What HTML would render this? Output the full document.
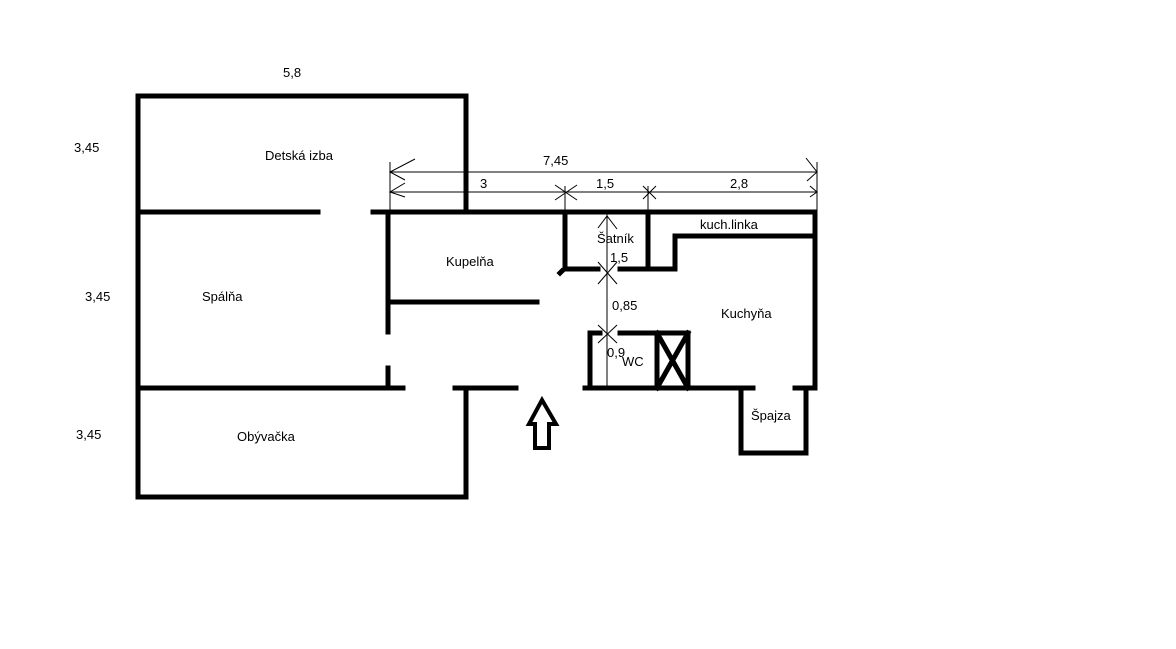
<!DOCTYPE html><html><head><style>body{margin:0;background:#fff}svg{display:block}text{font-family:"Liberation Sans",sans-serif;font-size:13px;fill:#000}</style></head><body>
<svg width="1176" height="649" viewBox="0 0 1176 649">
<g stroke="#000" stroke-width="5" fill="none" stroke-linecap="square">
<polyline points="466,212 466,96 138,96 138,497 466,497 466,388"/>
<line x1="138" y1="212" x2="318" y2="212"/>
<line x1="373" y1="212" x2="815" y2="212"/>
<line x1="138" y1="388" x2="403" y2="388"/>
<line x1="455" y1="388" x2="516" y2="388"/>
<line x1="388" y1="212" x2="388" y2="332"/>
<line x1="388" y1="368" x2="388" y2="388"/>
<line x1="388" y1="302" x2="537" y2="302"/>
<line x1="565" y1="212" x2="565" y2="269"/>
<line x1="565" y1="269" x2="598" y2="269"/>
<line x1="620" y1="269" x2="675" y2="269"/>
<line x1="648" y1="212" x2="648" y2="269"/>
<line x1="675" y1="269" x2="675" y2="236"/>
<line x1="675" y1="236" x2="815" y2="236"/>
<line x1="815" y1="212" x2="815" y2="388"/>
<line x1="590" y1="333" x2="600" y2="333"/>
<line x1="620" y1="333" x2="688" y2="333"/>
<line x1="590" y1="333" x2="590" y2="388"/>
<line x1="585" y1="388" x2="753" y2="388"/>
<line x1="795" y1="388" x2="815" y2="388"/>
<rect x="657" y="333" width="31" height="55"/>
<line x1="657" y1="333" x2="688" y2="388"/>
<line x1="688" y1="333" x2="657" y2="388"/>
<polyline points="741,388 741,453 806,453 806,388"/>
<line x1="562" y1="271" x2="560" y2="273"/>
<polygon points="542,400 529,424 535,424 535,448 549,448 549,424 556,424" stroke-width="4" stroke-linejoin="miter"/>
</g>
<g stroke="#000" stroke-width="1" fill="none">
<line x1="390" y1="172" x2="817" y2="172"/>
<line x1="390" y1="192" x2="817" y2="192"/>
<line x1="390" y1="162" x2="390" y2="212"/>
<line x1="817" y1="162" x2="817" y2="212"/>
<polyline points="415,159 390,172 405,180"/>
<polyline points="405,183 390,192 405,197"/>
<polyline points="806,158 817,172 807,181"/>
<polyline points="810,186 817,192 810,197"/>
<line x1="555" y1="185" x2="577" y2="200"/><line x1="555" y1="200" x2="577" y2="185"/>
<line x1="565" y1="186" x2="565" y2="212"/>
<line x1="643" y1="186" x2="656" y2="199"/><line x1="643" y1="199" x2="656" y2="186"/>
<line x1="648" y1="186" x2="648" y2="212"/>
<line x1="607" y1="214" x2="607" y2="388"/>
<polyline points="598,228 607,216 617,229"/>
<line x1="598" y1="262" x2="617" y2="284"/><line x1="598" y1="284" x2="617" y2="262"/>
<line x1="598" y1="325" x2="617" y2="343"/><line x1="598" y1="343" x2="617" y2="325"/>
</g>
<text x="283" y="77">5,8</text>
<text x="74" y="152">3,45</text>
<text x="85" y="301">3,45</text>
<text x="76" y="439">3,45</text>
<text x="265" y="160">Detská izba</text>
<text x="202" y="301">Spálňa</text>
<text x="237" y="441">Obývačka</text>
<text x="446" y="266">Kupelňa</text>
<text x="597" y="243">Šatník</text>
<text x="610" y="262">1,5</text>
<text x="612" y="310">0,85</text>
<text x="607" y="357">0,9</text>
<text x="622" y="366">WC</text>
<text x="721" y="318">Kuchyňa</text>
<text x="700" y="229">kuch.linka</text>
<text x="751" y="420">Špajza</text>
<text x="543" y="165">7,45</text>
<text x="480" y="188">3</text>
<text x="596" y="188">1,5</text>
<text x="730" y="188">2,8</text>
</svg></body></html>
